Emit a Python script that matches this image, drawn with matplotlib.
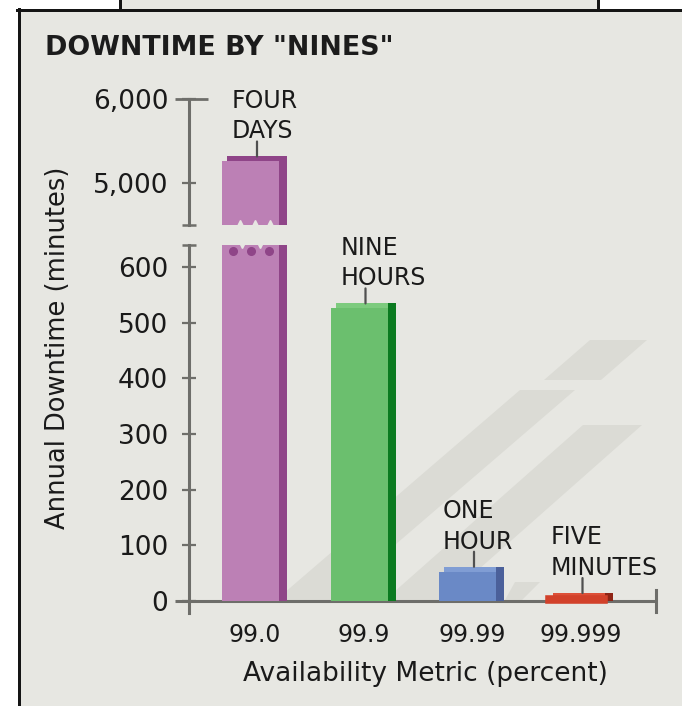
import matplotlib
matplotlib.use('Agg')
import matplotlib.pyplot as plt
import matplotlib.transforms as mtransforms
from matplotlib.patches import Polygon, Rectangle
import numpy as np

# ---------------- data ----------------
categories = ['99.0', '99.9', '99.99', '99.999']
downtime_minutes = [5256, 525.6, 52.56, 5.26]
bar_labels = ['FOUR\nDAYS', 'NINE\nHOURS', 'ONE\nHOUR', 'FIVE\nMINUTES']
lower_ticks = [0, 100, 200, 300, 400, 500, 600]
lower_tick_labels = ['0', '100', '200', '300', '400', '500', '600']
upper_ticks = [5000, 6000]
upper_tick_labels = ['5,000', '6,000']

# ---------------- style ----------------
front_colors = ['#bc80b5', '#6bbf6e', '#6a89c6', '#d2412a']
top_colors = ['#8f4588', '#7dcb7e', '#809dd4', '#dd5038']
side_colors = ['#8f4588', '#0b7a20', '#4b609a', '#8e2415']
BG = '#e7e7e2'
STRIPE = '#dbdbd5'
AXC = '#6e6e6a'
TXT = '#1a1a1a'

W, H = 682, 706
fig = plt.figure(figsize=(W / 100, H / 100), dpi=100)
fig.patch.set_facecolor('white')

def fig_rect(l, t, r, b):
    return [l / W, 1 - b / H, (r - l) / W, (b - t) / H]

# background / frame axes in pixel coordinates
bg = fig.add_axes([0, 0, 1, 1], zorder=0)
bg.set_xlim(0, W)
bg.set_ylim(H, 0)
bg.axis('off')
bg.add_patch(Rectangle((19, 10), W - 19, H - 10, facecolor=BG, edgecolor='none'))
bg.add_patch(Rectangle((120, 0), 478, 10, facecolor=BG, edgecolor='none'))
bg.plot([18.5, 18.5], [9, H], color='#151515', lw=3 * 0.72)
bg.plot([17, W], [10, 10], color='#151515', lw=3 * 0.72)
bg.plot([120, 120], [0, 10], color='#151515', lw=3 * 0.72)
bg.plot([597.5, 597.5], [0, 10], color='#151515', lw=3 * 0.72)
# decorative cast shadows
for poly in [
    [(590, 340), (647, 340), (601, 380), (544, 380)],
    [(520, 390), (575, 390), (331, 600), (276, 600)],
    [(583, 425), (642, 425), (444, 600), (385, 600)],
    [(515, 582), (540, 582), (522, 600), (505, 600)],
]:
    bg.add_patch(Polygon(poly, closed=True, facecolor=STRIPE, edgecolor='none'))

# geometry (pixels -> data)
AX_L, AX_R = 189, 656
X0_PX, X_STEP = 255, 108.5
LO_TOP, LO_BOT, LO_ZERO, LO_600 = 245, 613, 601, 267
UP_TOP, UP_BOT = 99, 225
lo_ppu = (LO_ZERO - LO_600) / 600.0
up_ppu = (225 - 99) / 1500.0

ax_bot = fig.add_axes(fig_rect(AX_L, LO_TOP, AX_R, LO_BOT), zorder=2)
ax_top = fig.add_axes(fig_rect(AX_L, UP_TOP, AX_R, UP_BOT), zorder=2)
xlim = ((AX_L - X0_PX) / X_STEP, (AX_R - X0_PX) / X_STEP)
for ax in (ax_bot, ax_top):
    ax.set_facecolor('none')
    ax.set_xlim(*xlim)
    for s in ('top', 'right', 'bottom'):
        ax.spines[s].set_visible(False)
    ax.spines['left'].set_color(AXC)
    ax.spines['left'].set_linewidth(2.2)
    ax.tick_params(axis='y', direction='inout', length=10, width=1.6, color=AXC,
                   labelsize=19, labelcolor=TXT, pad=10)

ax_bot.set_ylim(-(LO_BOT - LO_ZERO) / lo_ppu, 600 + (LO_600 - LO_TOP) / lo_ppu)
ax_top.set_ylim(4500, 6000)

bw = 57 / X_STEP
dxd = 8 / X_STEP
shift = -4 / X_STEP
dy_lo = 5 / lo_ppu
dy_up = 5 / up_ppu
x = np.arange(len(categories))

def draw_bars(ax, dyd, idx):
    for i in idx:
        h = downtime_minutes[i]
        xc = x[i] + shift
        x1 = xc + bw / 2
        ax.bar(xc + dxd * 0.6, h, bw, bottom=dyd, color=top_colors[i], zorder=3)
        ax.bar(x1 + dxd / 2, h + dyd, dxd, bottom=0, color=side_colors[i], zorder=4)
        lw = 4 if i == 3 else 0
        ax.bar(xc, h, bw, color=front_colors[i], edgecolor=front_colors[i],
               linewidth=lw, zorder=5)

draw_bars(ax_bot, dy_lo, range(4))
draw_bars(ax_top, dy_up, [0])

# break decorations on the tall bar
brk = x[0] + np.array([-0.14, 0.0, 0.14])
ax_top.plot(brk, [4500] * 3, ls='none', marker='^', ms=7, color=BG, mec=BG,
            clip_on=False, zorder=6)
dots = x[0] + shift + np.array([-0.17, 0.0, 0.17])
ax_bot.plot(dots, [629] * 3, ls='none', marker='o', ms=5.5, color='#8f4588',
            mec='#8f4588', zorder=6)
ax_bot.plot(dots[:2] + 0.085, [639.5] * 2, ls='none', marker='v', ms=5, color=BG,
            mec=BG, clip_on=False, zorder=6)

# ticks
ax_bot.set_yticks(lower_ticks, lower_tick_labels)
ax_top.set_yticks(upper_ticks, upper_tick_labels)
ax_top.set_xticks([])
ax_bot.set_xticks(x, categories)
ax_bot.tick_params(axis='x', length=0, pad=7, labelsize=17, labelcolor=TXT)

# axis lines and caps
blend_b = mtransforms.blended_transform_factory(ax_bot.transAxes, ax_bot.transData)
blend_t = mtransforms.blended_transform_factory(ax_top.transAxes, ax_top.transData)
axw = AX_R - AX_L
ax_bot.plot([-14 / axw, 1], [0, 0], transform=blend_b, color=AXC, lw=2.2,
            clip_on=False, zorder=1, solid_capstyle='butt')
ax_bot.plot([1, 1], [-11 / lo_ppu, 11 / lo_ppu], transform=blend_b, color=AXC, lw=2.2,
            clip_on=False, zorder=1)
ax_bot.plot([0], [1], transform=ax_bot.transAxes, marker='_', ms=10, mew=1.8,
            color=AXC, clip_on=False)
ax_top.plot([0], [0], transform=ax_top.transAxes, marker='_', ms=10, mew=1.8,
            color=AXC, clip_on=False)
ax_top.plot([-14 / axw, 19 / axw], [6000, 6000], transform=blend_t, color=AXC,
            lw=2.0, clip_on=False, solid_capstyle='butt')

# annotations
label_dx_px = [-23, -23, -29, -30]
for i, lab in enumerate(bar_labels):
    ax = ax_top if i == 0 else ax_bot
    dyd = dy_up if i == 0 else dy_lo
    top_val = downtime_minutes[i] + dyd
    ax.annotate('', xy=(x[i] + 2 / X_STEP, top_val), xytext=(0, 15 * 0.72),
                textcoords='offset points',
                arrowprops=dict(arrowstyle='-', color='#505050', lw=1.6,
                                shrinkA=0, shrinkB=0),
                annotation_clip=False)
    ax.annotate(lab, xy=(x[i], top_val), xytext=(label_dx_px[i] * 0.72, 18 * 0.72),
                textcoords='offset points', ha='left', va='baseline',
                fontsize=17, linespacing=1.35, color=TXT, annotation_clip=False)

ax_bot.set_xlabel('Availability Metric (percent)', fontsize=19, color=TXT)
ax_bot.xaxis.set_label_coords((425 - AX_L) / axw, (LO_BOT - 661) / (LO_BOT - LO_TOP))
fig.text(58 / W, 1 - 348 / H, 'Annual Downtime (minutes)', rotation=90,
         ha='center', va='center', fontsize=18.5, color=TXT)
fig.text(45 / W, 1 - 35 / H, 'DOWNTIME BY "NINES"', ha='left', va='top',
         fontsize=19.4, fontweight='bold', color='#1c1c1c')

fig.savefig('out.png', dpi=100)
